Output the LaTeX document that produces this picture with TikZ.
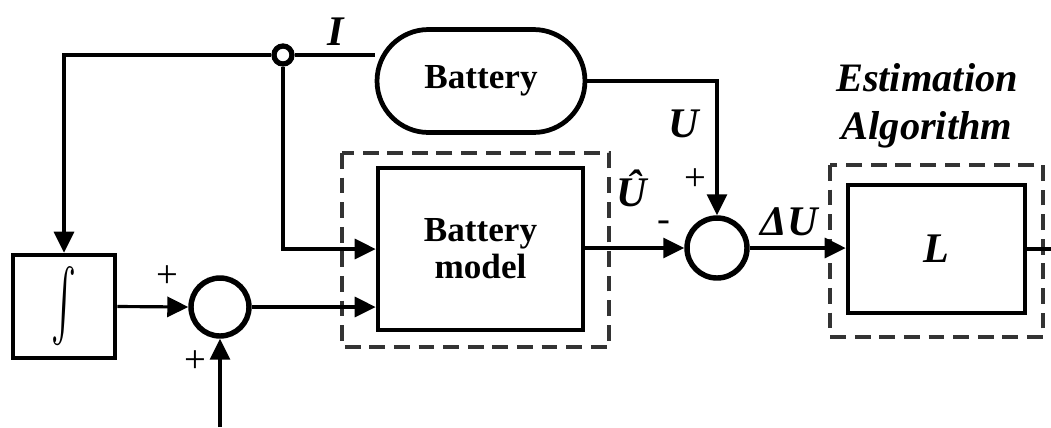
\documentclass[tikz,border=0pt]{standalone}
\usepackage{fontspec}
\usepackage{graphicx}
\setmainfont{Liberation Serif}
\usetikzlibrary{shapes.misc,arrows.meta,backgrounds}
\tikzset{
  conn/.style={line width=1.8pt},
  arr/.style={conn,-{Triangle[length=0.42cm,width=0.40cm]}},
  blk/.style={draw,line width=2.7pt,fill=white,inner sep=0pt},
  sumc/.style={draw,circle,line width=3.1pt,fill=white,minimum size=1.16cm,inner sep=0pt},
  dbox/.style={draw=black!80,line width=2.3pt,dash pattern=on 9pt off 5pt},
  lbl/.style={inner sep=0pt,font=\fontsize{24}{26}\selectfont\bfseries\itshape},
  pm/.style={inner sep=0pt,font=\fontsize{22}{24}\selectfont},
  btxt/.style={font=\fontsize{20}{23}\selectfont\bfseries,align=center}
}
\begin{document}
\begin{tikzpicture}[x=0.02cm,y=-0.02cm]
\useasboundingbox (0,0) rectangle (1051,427);
% dashed frames
\draw[dbox] (342,153) rectangle (609,347);
\draw[dbox] (830,165) rectangle (1043,337);
% blocks
\node[blk,minimum width=2.04cm,minimum height=2.06cm] (int) at (64,306.5) {\resizebox{0.5cm}{1.15cm}{$\int$}};
\node[sumc] (sum1) at (220,307) {};
\node[draw,circle,line width=3pt,fill=white,minimum size=0.36cm,inner sep=0pt] (junc) at (283,55) {};
\node[blk,btxt,rounded rectangle,minimum width=4.16cm,minimum height=2.06cm] (bat) at (481,81) {Battery};
\node[blk,btxt,minimum width=4.1cm,minimum height=3.24cm] (bm) at (480.5,249) {Battery\\[-2pt]model};
\node[sumc,minimum size=1.2cm] (sum2) at (717,248) {};
\node[blk,minimum width=3.54cm,minimum height=2.56cm,font=\fontsize{24}{26}\selectfont\bfseries\itshape] (L) at (936.5,249) {L};
\coordinate (inp) at (220,427);
\coordinate (out) at (1051,249);
% connectors
\begin{pgfonlayer}{background}
\draw[conn] (junc.east) -- (bat.west |- junc.east);
\end{pgfonlayer}
\draw[arr] (junc.west) -| (int.north);
\draw[arr] (bat.east) -| (sum2.north);
\draw[arr] (junc.south) |- (bm.west);
\draw[arr] (int.east) -- (sum1.west);
\draw[arr] (sum1.east) -- (sum1.east -| bm.west);
\draw[arr] (inp) -- (sum1.south);
\draw[arr] (bm.east |- sum2.west) -- (sum2.west);
\draw[arr] (sum2.east) -- (sum2.east -| L.west);
\draw[conn] (L.east |- out) -- (out);
% labels
\node[lbl] (lI) at (336,32) {I};
\node[lbl] (lU) at (684,124) {U};
\node[pm] (p1) at (695,180) {+};
\node[lbl] (lUh) at (632,188) {Û};
\node[pm] (m1) at (664,226) {-};
\node[lbl] (lDU) at (789,222) {ΔU};
\node[pm] (p2) at (167,277) {+};
\node[pm] (p3) at (195,362) {+};
\node[lbl,font=\fontsize{23}{25}\selectfont\bfseries\itshape] (est) at (927,78) {Estimation};
\node[lbl,font=\fontsize{23}{25}\selectfont\bfseries\itshape] (alg) at (927,130) {Algorithm};
\end{tikzpicture}
\end{document}
